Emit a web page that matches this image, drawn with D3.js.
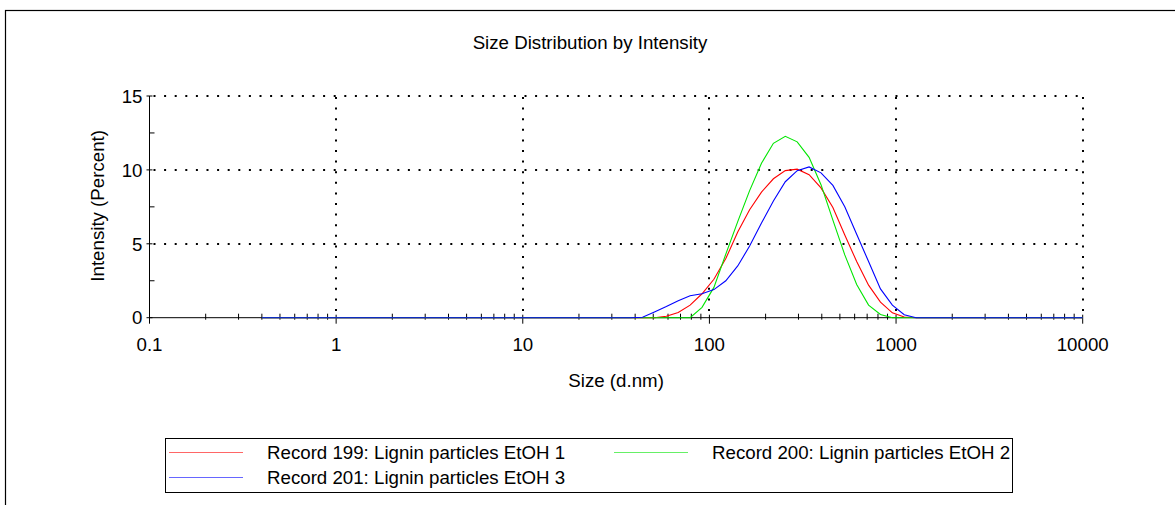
<!DOCTYPE html>
<html>
<head>
<meta charset="utf-8">
<script src="https://cdn.jsdelivr.net/npm/d3@7/dist/d3.min.js"></script>
<style>
  html, body { margin: 0; padding: 0; background: #fff; }
  svg { display: block; }
  text { font-family: "Liberation Sans", Arial, sans-serif; fill: #000; }
</style>
</head>
<body>
<svg id="chart" width="1175" height="505"></svg>
<script>
// Size classes (d.nm)
const sizes = [0.4, 0.4632, 0.5365, 0.6213, 0.7195, 0.8332, 0.9649, 1.117, 1.294, 1.499,
  1.736, 2.010, 2.328, 2.696, 3.122, 3.615, 4.187, 4.849, 5.615, 6.503,
  7.531, 8.721, 10.10, 11.70, 13.54, 15.69, 18.17, 21.04, 24.36, 28.21,
  32.67, 37.84, 43.82, 50.75, 58.77, 68.06, 78.82, 91.28, 105.7, 122.4,
  141.8, 164.2, 190.1, 220.2, 255.0, 295.3, 342.0, 396.1, 458.7, 531.2,
  615.1, 712.4, 825.0, 955.4, 1106, 1281, 1484, 1718, 1990, 2305,
  2669, 3091, 3580, 4145, 4801, 5560, 6439, 7456, 8635, 10000];

// Intensity (%) per size class for each record
const record199 = [0, 0, 0, 0, 0, 0, 0, 0, 0, 0,
  0, 0, 0, 0, 0, 0, 0, 0, 0, 0,
  0, 0, 0, 0, 0, 0, 0, 0, 0, 0,
  0, 0, 0, 0, 0.1, 0.35, 0.85, 1.62, 2.6, 4.0,
  5.8, 7.3, 8.5, 9.4, 9.95, 10.05, 9.68, 8.78, 7.45, 5.6,
  3.8, 2.2, 1.05, 0.33, 0.05, 0, 0, 0, 0, 0,
  0, 0, 0, 0, 0, 0, 0, 0, 0, 0];
const record200 = [0, 0, 0, 0, 0, 0, 0, 0, 0, 0,
  0, 0, 0, 0, 0, 0, 0, 0, 0, 0,
  0, 0, 0, 0, 0, 0, 0, 0, 0, 0,
  0, 0, 0, 0, 0, 0, 0, 0.7, 2.05, 4.3,
  6.5, 8.6, 10.45, 11.8, 12.27, 11.9, 10.85, 9.0, 6.6, 4.25,
  2.25, 0.85, 0.22, 0, 0, 0, 0, 0, 0, 0,
  0, 0, 0, 0, 0, 0, 0, 0, 0, 0];
const record201 = [0, 0, 0, 0, 0, 0, 0, 0, 0, 0,
  0, 0, 0, 0, 0, 0, 0, 0, 0, 0,
  0, 0, 0, 0, 0, 0, 0, 0, 0, 0,
  0, 0, 0.03, 0.38, 0.75, 1.15, 1.48, 1.62, 1.9, 2.5,
  3.5, 4.85, 6.4, 7.9, 9.2, 9.95, 10.2, 9.8, 8.95, 7.5,
  5.65, 3.8, 1.95, 0.85, 0.2, 0, 0, 0, 0, 0,
  0, 0, 0, 0, 0, 0, 0, 0, 0, 0];

const seriesNames = ["Record 199: Lignin particles EtOH 1",
                     "Record 200: Lignin particles EtOH 2",
                     "Record 201: Lignin particles EtOH 3"];
const seriesColors = ["#ff0000", "#00e600", "#0000ff"];
const seriesValues = [record199, record200, record201];

const xTickValues = [0.1, 1, 10, 100, 1000, 10000];
const xTickLabels = ["0.1", "1", "10", "100", "1000", "10000"];
const yTickValues = [0, 5, 10, 15];
const yMinorValues = [2.5, 7.5, 12.5];

const FS = 18.7;
const svg = d3.select("#chart");

// outer frame
svg.append("rect")
  .attr("x", 5.5).attr("y", 10.5)
  .attr("width", 1300).attr("height", 600)
  .attr("fill", "none").attr("stroke", "#000").attr("stroke-width", 1.2);

const plotLeft = 149.5, plotRight = 1082.7, plotTop = 96, plotBottom = 317.7;
const x = d3.scaleLog().domain([0.1, 10000]).range([plotLeft, plotRight]);
const y = d3.scaleLinear().domain([0, 15]).range([plotBottom, plotTop]);

// title
svg.append("text")
  .attr("x", 590).attr("y", 49)
  .attr("text-anchor", "middle")
  .attr("font-size", FS)
  .text("Size Distribution by Intensity");

// dotted grid
const grid = svg.append("g").attr("stroke", "#000").attr("stroke-width", 2)
  .attr("stroke-dasharray", "2 8.6").attr("fill", "none");
[5, 10, 15].forEach(v => {
  grid.append("line")
    .attr("x1", plotLeft + 4).attr("x2", plotRight)
    .attr("y1", Math.round(y(v))).attr("y2", Math.round(y(v)));
});
[1, 10, 100, 1000, 10000].forEach(v => {
  grid.append("line")
    .attr("x1", Math.round(x(v))).attr("x2", Math.round(x(v)))
    .attr("y1", plotTop + 1).attr("y2", plotBottom - 2);
});

// y axis
const yAxis = svg.append("g").attr("stroke", "#000").attr("stroke-width", 1);
yAxis.append("line").attr("x1", plotLeft).attr("x2", plotLeft)
  .attr("y1", plotTop).attr("y2", plotBottom);
yTickValues.forEach(v => {
  yAxis.append("line").attr("x1", plotLeft - 3).attr("x2", plotLeft + 3)
    .attr("y1", y(v)).attr("y2", y(v));
});
yMinorValues.forEach(v => {
  yAxis.append("line").attr("x1", plotLeft).attr("x2", plotLeft + 5)
    .attr("y1", y(v)).attr("y2", y(v));
});
svg.append("g").selectAll("text").data(yTickValues).join("text")
  .attr("x", plotLeft - 7).attr("y", d => y(d)).attr("dy", "0.36em")
  .attr("text-anchor", "end").attr("font-size", FS)
  .text(d => d);

// x axis
const xAxis = svg.append("g").attr("stroke", "#000").attr("stroke-width", 1);
xAxis.append("line").attr("x1", plotLeft).attr("x2", plotRight)
  .attr("y1", plotBottom).attr("y2", plotBottom);
xTickValues.forEach(v => {
  xAxis.append("line").attr("x1", x(v)).attr("x2", x(v))
    .attr("y1", plotBottom - 3).attr("y2", plotBottom + 6);
});
const xMinor = [];
[0.1, 1, 10, 100, 1000].forEach(d => { for (let k = 2; k <= 9; k++) xMinor.push(d * k); });
xMinor.forEach(v => {
  xAxis.append("line").attr("x1", x(v)).attr("x2", x(v))
    .attr("y1", plotBottom - 4).attr("y2", plotBottom + 2);
});
svg.append("g").selectAll("text").data(xTickValues).join("text")
  .attr("x", d => x(d)).attr("y", 351)
  .attr("text-anchor", "middle").attr("font-size", FS)
  .text((d, i) => xTickLabels[i]);

// axis titles
svg.append("text")
  .attr("x", (plotLeft + plotRight) / 2).attr("y", 387)
  .attr("text-anchor", "middle").attr("font-size", FS)
  .text("Size (d.nm)");
svg.append("text")
  .attr("transform", `translate(97,${(plotTop + plotBottom) / 2 - 1}) rotate(-90)`)
  .attr("dy", "0.36em")
  .attr("text-anchor", "middle").attr("font-size", FS)
  .text("Intensity (Percent)");

// distribution curves
const line = d3.line()
  .x((d, i) => x(sizes[i]))
  .y(d => y(d));
seriesValues.forEach((vals, s) => {
  svg.append("path")
    .datum(vals)
    .attr("d", line)
    .attr("fill", "none")
    .attr("stroke", seriesColors[s])
    .attr("stroke-width", 1.1);
});

// legend
const legend = svg.append("g");
legend.append("rect")
  .attr("x", 165.5).attr("y", 438.5).attr("width", 847).attr("height", 54)
  .attr("fill", "#fff").attr("stroke", "#000").attr("stroke-width", 1);
const legendPos = [
  { lx: 169, tx: 267, y: 452.5 },
  { lx: 614, tx: 712, y: 452.5 },
  { lx: 169, tx: 267, y: 477.5 }
];
seriesNames.forEach((name, i) => {
  const p = legendPos[i];
  legend.append("line")
    .attr("x1", p.lx).attr("x2", p.lx + 74).attr("y1", p.y).attr("y2", p.y)
    .attr("stroke", seriesColors[i]).attr("stroke-width", 1.2).attr("stroke-opacity", 0.6);
  legend.append("text")
    .attr("x", p.tx).attr("y", p.y).attr("dy", "0.36em")
    .attr("font-size", FS)
    .text(name);
});
</script>
</body>
</html>
